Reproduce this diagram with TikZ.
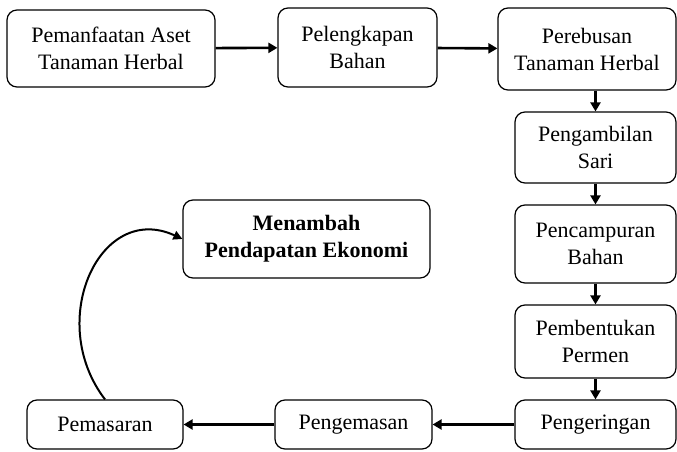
\documentclass[tikz,border=0pt]{standalone}
\usepackage{fontspec}
\setmainfont{Liberation Serif}
\usetikzlibrary{positioning}
\usetikzlibrary{arrows.meta}
\begin{document}
\begin{tikzpicture}[x=1pt, y=1pt,
    box/.style={draw, rounded corners=10pt, line width=1.2pt, align=center,
        font=\fontsize{22}{27}\selectfont, inner sep=0pt},
    flow/.style={-{Triangle[length=9pt, width=10pt]}, line width=2.6pt}]
        \useasboundingbox (0,0) rectangle (677,451);
        % nodes %
        \node[box, minimum width=208, minimum height=77] (aset) at (111,402.5) {Pemanfaatan Aset\\Tanaman Herbal};
        \node[box, minimum width=159, minimum height=79] (lengkap) at (357.5,403.5) {Pelengkapan\\Bahan};
        \node[box, minimum width=178, minimum height=82] (rebus) at (587,402) {Perebusan\\Tanaman Herbal};
        \node[box, minimum width=161, minimum height=71] (sari) at (595.5,303.5) {Pengambilan\\Sari};
        \node[box, minimum width=161, minimum height=78] (campur) at (595.5,207) {Pencampuran\\Bahan};
        \node[box, minimum width=161, minimum height=73] (bentuk) at (595.5,109.5) {Pembentukan\\Permen};
        \node[box, minimum width=161, minimum height=49] (kering) at (595.5,26.5) {Pengeringan};
        \node[box, minimum width=157, minimum height=49] (kemas) at (353.5,26.5) {Pengemasan};
        \node[box, minimum width=156, minimum height=49] (pasar) at (105,26.5) {Pemasaran};
        \node[box, minimum width=247, minimum height=78, font=\fontsize{22}{27}\selectfont\bfseries] (ekonomi) at (306.5,212) {Menambah\\Pendapatan Ekonomi};
        % edges %
        \draw[flow] (aset) -- (lengkap);
        \draw[flow] (lengkap) -- (rebus);
        \draw[flow] (rebus.south -| sari.north) -- (sari);
        \draw[flow] (sari) -- (campur);
        \draw[flow] (campur) -- (bentuk);
        \draw[flow] (bentuk) -- (kering);
        \draw[flow] (kering) -- (kemas);
        \draw[flow] (kemas) -- (pasar);
        \draw[-{Triangle[length=9pt, width=9pt]}, line width=2pt] (pasar.north) .. controls (45,130) and (100,250) .. (ekonomi.west);
\end{tikzpicture}
\end{document}
